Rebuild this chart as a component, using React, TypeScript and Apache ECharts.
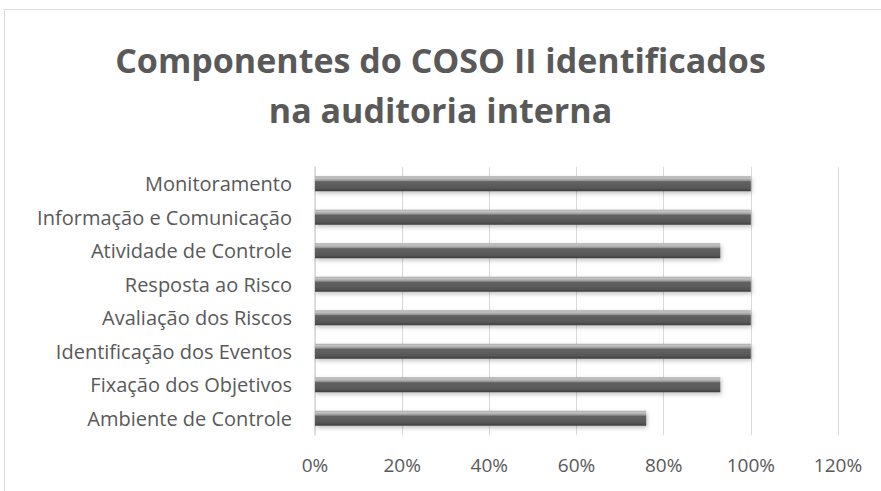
import React, { useEffect, useRef } from "react";
import * as echarts from "echarts";

const categories = [
  "Ambiente de Controle",
  "Fixação dos Objetivos",
  "Identificação dos Eventos",
  "Avaliação dos Riscos",
  "Resposta ao Risco",
  "Atividade de Controle",
  "Informação e Comunicação",
  "Monitoramento",
];
const values = [0.76, 0.93, 1.0, 1.0, 1.0, 0.93, 1.0, 1.0];
const titleLines = ["Componentes do COSO II identificados", "na auditoria interna"];
const FONT = "'Open Sans', sans-serif";

export default function App() {
  const ref = useRef<HTMLDivElement>(null);
  useEffect(() => {
    const chart = echarts.init(ref.current!, null, { renderer: "svg" });
    chart.setOption({
      animation: false,
      backgroundColor: "#ffffff",
      title: {
        text: titleLines.join("\n"),
        left: "center",
        top: 30,
        textStyle: {
          fontFamily: FONT,
          fontSize: 34,
          fontWeight: "bold",
          color: "#595959",
          lineHeight: 50,
        },
      },
      graphic: [
        {
          type: "rect",
          shape: { x: 4.5, y: 9.5, width: 900, height: 500 },
          style: { fill: "none", stroke: "#d9d9d9", lineWidth: 1 },
          silent: true,
        },
      ],
      grid: { left: 315, right: 43, top: 167, bottom: 56, containLabel: false },
      xAxis: {
        type: "value",
        min: 0,
        max: 1.2,
        interval: 0.2,
        axisLine: { show: false },
        axisTick: { show: false },
        splitLine: { show: true, lineStyle: { color: "#d9d9d9", width: 1 } },
        axisLabel: {
          formatter: (v: number) => Math.round(v * 100) + "%",
          color: "#595959",
          fontFamily: FONT,
          fontSize: 19,
          margin: 20,
        },
      },
      yAxis: {
        type: "category",
        data: categories,
        axisLine: { show: true, lineStyle: { color: "#d9d9d9", width: 1.5 } },
        axisTick: { show: false },
        axisLabel: {
          color: "#595959",
          fontFamily: FONT,
          fontSize: 20,
          margin: 23,
        },
      },
      series: [
        {
          type: "bar",
          data: values,
          barWidth: 15,
          itemStyle: {
            color: new echarts.graphic.LinearGradient(0, 0, 0, 1, [
              { offset: 0, color: "#a8a8a8" },
              { offset: 0.12, color: "#c4c4c4" },
              { offset: 0.28, color: "#9a9a9a" },
              { offset: 0.36, color: "#626262" },
              { offset: 0.8, color: "#575757" },
              { offset: 1, color: "#3e3e3e" },
            ]),
            shadowColor: "rgba(0,0,0,0.25)",
            shadowBlur: 4,
            shadowOffsetX: 1,
            shadowOffsetY: 2,
          },
        },
      ],
    });
    return () => chart.dispose();
  }, []);
  return (
    <div
      ref={ref}
      style={{ position: "fixed", left: 0, top: 0, width: 881, height: 491 }}
    />
  );
}
